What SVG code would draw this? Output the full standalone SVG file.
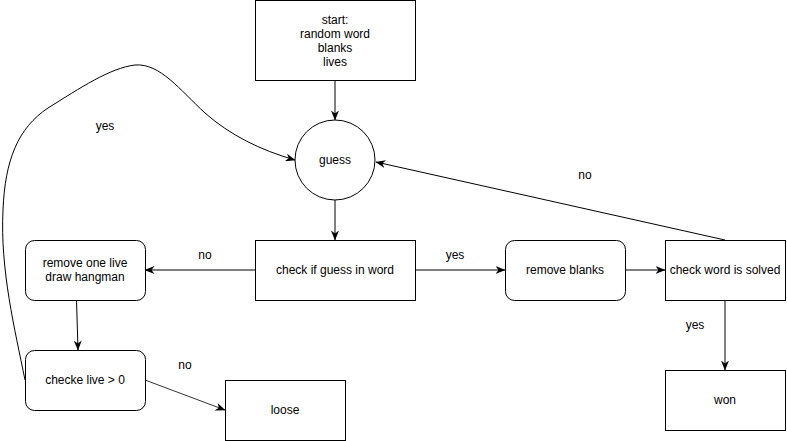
<svg xmlns="http://www.w3.org/2000/svg" width="787" height="441" viewBox="0 0 787 441">
<defs>
<marker id="arr" viewBox="0 0 10 8" refX="9.5" refY="4" markerWidth="10" markerHeight="8" markerUnits="userSpaceOnUse" orient="auto">
<path d="M0,0 L10,4 L0,8 L3,4 Z" fill="#000"/>
</marker>
<style>
.n{fill:#fff;stroke:#000;stroke-width:1}
.t{font-family:"Liberation Sans",Arial,sans-serif;font-size:12px;fill:#000;text-anchor:middle}
.e{fill:none;stroke:#000;stroke-width:1;marker-end:url(#arr)}
</style>
</defs>
<rect width="787" height="441" fill="#fff"/>
<g id="edges">
<path class="e" d="M335,80 L335,120"/>
<path class="e" d="M335,200 L335,240"/>
<path class="e" d="M255,270 L145,270"/>
<path class="e" d="M76.5,300 L78,350"/>
<path class="e" d="M145,380 L225,410" style="stroke:#333"/>
<path class="e" d="M25,380 C15,330 0,270 3,210 C5,160 18,128 48,108 C80,88 110,68 135,65 C160,63 180,90 205,113 C230,135 260,150 295,160"/>
<path class="e" d="M415,270 L505,270"/>
<path class="e" d="M625,270 L665,270"/>
<path class="e" d="M725,240 L376,162"/>
<path class="e" d="M725,300 L725,370"/>
<text class="t" x="205" y="259">no</text>
<text class="t" x="185" y="369">no</text>
<text class="t" x="105" y="130">yes</text>
<text class="t" x="455" y="259">yes</text>
<text class="t" x="585" y="179">no</text>
<text class="t" x="695" y="329">yes</text>
</g>
<g id="start">
<rect class="n" x="255.5" y="0.5" width="160" height="80"/>
<text class="t" x="335" y="24">start:</text>
<text class="t" x="335" y="38">random word</text>
<text class="t" x="335" y="52">blanks</text>
<text class="t" x="335" y="66">lives</text>
</g>
<g id="guess">
<circle class="n" cx="335" cy="160" r="40"/>
<text class="t" x="335" y="164">guess</text>
</g>
<g id="checkGuess">
<rect class="n" x="255.5" y="240.5" width="160" height="60"/>
<text class="t" x="335" y="274">check if guess in word</text>
</g>
<g id="removeLive">
<rect class="n" x="25.5" y="240.5" width="120" height="60" rx="9"/>
<text class="t" x="85" y="267">remove one live</text>
<text class="t" x="85" y="281">draw hangman</text>
</g>
<g id="checkLive">
<rect class="n" x="25.5" y="350.5" width="120" height="60" rx="9"/>
<text class="t" x="85" y="384">checke live &gt; 0</text>
</g>
<g id="loose">
<rect class="n" x="225.5" y="380.5" width="120" height="60"/>
<text class="t" x="285" y="414">loose</text>
</g>
<g id="removeBlanks">
<rect class="n" x="505.5" y="240.5" width="120" height="60" rx="9"/>
<text class="t" x="565" y="274">remove blanks</text>
</g>
<g id="checkSolved">
<rect class="n" x="665.5" y="240.5" width="120" height="60"/>
<text class="t" x="725" y="274">check word is solved</text>
</g>
<g id="won">
<rect class="n" x="665.5" y="370.5" width="120" height="60"/>
<text class="t" x="725" y="404">won</text>
</g>
</svg>
